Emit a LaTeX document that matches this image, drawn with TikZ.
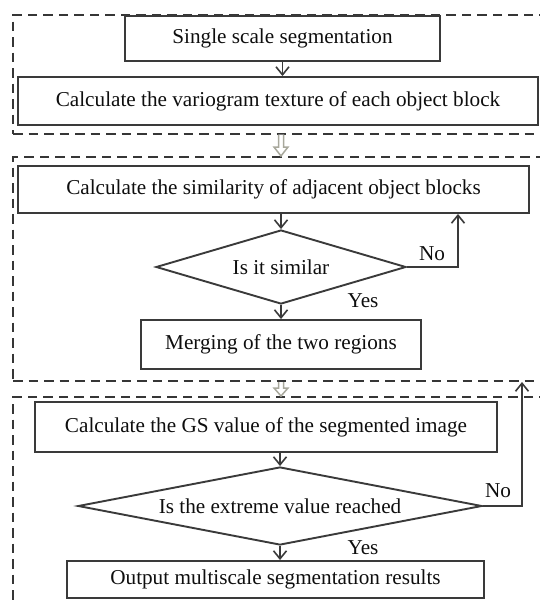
\documentclass[tikz,border=0pt]{standalone}
\usepackage{fontspec}
\setmainfont{Liberation Serif}
\usetikzlibrary{shapes.geometric,arrows.meta,calc}
\definecolor{linec}{HTML}{3A3A3A}
\definecolor{dashc}{HTML}{363636}
\definecolor{hollowc}{HTML}{A8A89C}
\definecolor{txtc}{HTML}{0E0E0E}
\begin{document}
\begin{tikzpicture}[x=1pt,y=-1pt,
  box/.style={draw=linec, line width=1.9pt, rectangle, inner sep=0pt, font=\fontsize{21.2}{25}\selectfont, text=txtc},
  dec/.style={draw=linec, line width=1.9pt, diamond, inner sep=0pt, font=\fontsize{21.2}{25}\selectfont, text=txtc},
  grp/.style={draw=dashc, line width=2pt, dash pattern=on 9.5pt off 6pt, rectangle, inner sep=0pt},
  lbl/.style={font=\fontsize{21.2}{25}\selectfont, inner sep=0pt, text=txtc},
  arr/.style={draw=linec, line width=1.6pt, -{Straight Barb[length=8pt,width=13pt]}},
  hol/.style={draw=hollowc, line width=1.5pt, fill=white, line join=miter}
]
\useasboundingbox (0,0) rectangle (540,603);
\clip (0,0) rectangle (540,603);

% dashed groups
\node[grp, minimum width=557pt, minimum height=119pt] (g1) at (291.5,74) {};
\node[grp, minimum width=557pt, minimum height=224pt] (g2) at (291.5,269) {};
\node[grp, minimum width=557pt, minimum height=243pt] (g3) at (291.5,518.5) {};

% process nodes
\node[box, minimum width=315pt, minimum height=45pt] (n1) at (282.5,38.5) {Single scale segmentation};
\node[box, minimum width=520pt, minimum height=48pt] (n2) at (278,101) {Calculate the variogram texture of each object block};
\node[box, minimum width=511pt, minimum height=47pt] (n3) at (273.5,189.5) {Calculate the similarity of adjacent object blocks};
\node[dec, aspect=3.38, minimum width=250pt, minimum height=74pt] (d1) at (281,267) {Is it similar};
\node[box, minimum width=280pt, minimum height=49pt] (n4) at (281,344.5) {Merging of the two regions};
\node[box, minimum width=462pt, minimum height=50pt] (n5) at (266,427) {Calculate the GS value of the segmented image};
\node[dec, aspect=5.18, minimum width=404pt, minimum height=78pt] (d2) at (280,506) {Is the extreme value reached};
\node[box, minimum width=417pt, minimum height=37pt] (n6) at (275.5,579.5) {Output multiscale segmentation results};

% labels
\node[lbl] (no1) at (432,254) {No};
\node[lbl] (yes1) at (363,301) {Yes};
\node[lbl] (no2) at (498,491) {No};
\node[lbl] (yes2) at (363,548) {Yes};

% connectors
\draw[arr] (n1.south) -- (n1.south |- n2.north);
\draw[arr] (d1.north |- n3.south) -- (d1.north);
\draw[arr] (d1.south) -- (d1.south |- n4.north);
\coordinate (c1) at (458,267);
\draw[arr] (d1.east) -- (c1) -- (c1 |- n3.south);
\draw[arr] (d2.north |- n5.south) -- (d2.north);
\draw[arr] (d2.south) -- (d2.south |- n6.north);
\coordinate (c2) at (522,506);
\draw[arr] (d2.east) -- (c2) -- (c2 |- g2.south);

% hollow arrows between groups
\coordinate (h1a) at (d1 |- g1.south);
\coordinate (h1b) at (d1 |- g2.north);
\draw[hol] ($(h1a)+(-2.5,0)$) -- ($(h1b)+(-2.5,-9)$) -- ($(h1b)+(-7,-9)$) -- (h1b) -- ($(h1b)+(7,-9)$) -- ($(h1b)+(2.5,-9)$) -- ($(h1a)+(2.5,0)$);
\coordinate (h2a) at (d1 |- g2.south);
\coordinate (h2b) at (d1 |- g3.north);
\draw[hol] ($(h2a)+(-2.5,0)$) -- ($(h2b)+(-2.5,-8)$) -- ($(h2b)+(-7,-8)$) -- (h2b) -- ($(h2b)+(7,-8)$) -- ($(h2b)+(2.5,-8)$) -- ($(h2a)+(2.5,0)$);
\end{tikzpicture}
\end{document}
